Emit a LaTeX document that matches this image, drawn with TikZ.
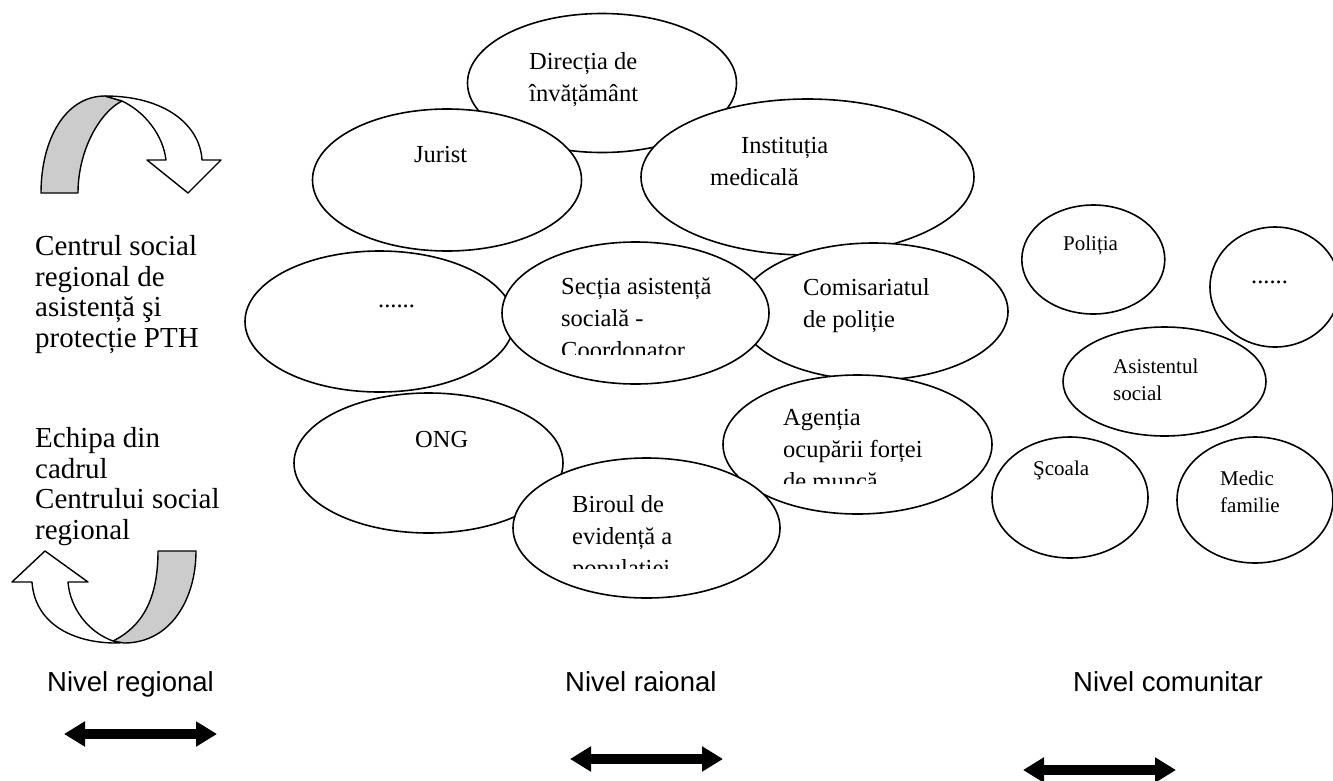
\documentclass[tikz,border=0pt]{standalone}
\usepackage{fontspec}
\setmainfont{Liberation Serif}
\newfontfamily\arialfont{Liberation Sans}
\usetikzlibrary{shapes.geometric,arrows.meta}

\begin{document}
\begin{tikzpicture}[x=1pt,y=-1pt]
          \tikzstyle{oval}=[ellipse, draw, line width=1.6pt, fill=white, inner sep=0pt]
          \tikzstyle{txt}=[anchor=base west, inner sep=0pt, align=left, font=\fontsize{24.5}{32}\selectfont]
          \tikzstyle{small}=[txt, font=\fontsize{21}{27}\selectfont]
          \tikzstyle{side}=[txt, font=\fontsize{29}{30.5}\selectfont]
          \tikzstyle{level}=[anchor=base west, inner sep=0pt, font=\arialfont\fontsize{27.5}{30}\selectfont]
          \tikzstyle{twoway}=[line width=10pt, {Triangle[length=21pt 0, width=24pt 0]}-{Triangle[length=21pt 0, width=24pt 0]}]
          \tikzstyle{band}=[draw, line width=1.4pt, line join=round]
          \useasboundingbox (0,0) rectangle (1333,780);

          \filldraw[band, fill=gray!40] (41,193) .. controls (41,140) and (65,96) .. (105,96)
            -- (122,101) .. controls (100,112) and (78,150) .. (78,193) -- cycle;
          \filldraw[band, fill=white] (105,96) .. controls (165,96) and (200,125) .. (202,160)
            -- (221,160) -- (188,193) -- (147,160) -- (166,160)
            .. controls (163,135) and (145,112) .. (122,101) -- cycle;
          \filldraw[band, fill=gray!40] (158,551) -- (196,551) .. controls (196,600) and (170,643) .. (124,643)
            -- (113,641) .. controls (145,625) and (158,595) .. (158,551) -- cycle;
          \filldraw[band, fill=white] (68,582) -- (88,582) -- (45,551) -- (12,582) -- (32,582)
            .. controls (35,625) and (75,644) .. (120,643) -- (113,641)
            .. controls (88,632) and (70,608) .. (68,582) -- cycle;

          \node[side] (centru) at (35,347) {Centrul social\\regional de\\asistență şi\\protecție PTH};
          \node[side] (echipa) at (35,539) {Echipa din\\cadrul\\Centrului social\\regional};

          \node[oval, minimum width=269pt, minimum height=139pt] (directia) at (602,83) {};
          \node[txt] (directiaT) at (529,101) {Direcția de\\învățământ};
          \node[oval, minimum width=269pt, minimum height=142pt] (jurist) at (447,180) {};
          \node[txt] (juristT) at (414,162) {Jurist};
          \node[oval, minimum width=333pt, minimum height=156pt] (institutia) at (807.5,177) {};
          \node[txt] (institutiaT) at (710,185) {\hspace*{31pt}Instituția\\medicală};
          \node[oval, minimum width=269pt, minimum height=137pt] (comisariat) at (873.5,311.5) {};
          \node[txt] (comisariatT) at (803,327) {Comisariatul\\de poliție};
          \node[oval, minimum width=269pt, minimum height=141pt] (altii) at (379.5,321.5) {};
          \node[txt] (altiiT) at (378,307) {......};
          \node[oval, minimum width=267pt, minimum height=142pt] (sectia) at (635.5,313) {};
          \begin{scope}
            \clip (500,230) rectangle (772,354);
            \node[txt] (sectiaT) at (561,358) {Secția asistență\\socială -\\Coordonator};
          \end{scope}
          \node[oval, minimum width=269pt, minimum height=140pt] (ong) at (428.5,463) {};
          \node[txt] (ongT) at (415,447) {ONG};
          \node[oval, minimum width=269pt, minimum height=139pt] (agentia) at (857.5,444.5) {};
          \begin{scope}
            \clip (720,370) rectangle (995,483);
            \node[txt] (agentiaT) at (783,489) {Agenția\\ocupării forței\\de muncă};
          \end{scope}
          \node[oval, minimum width=267pt, minimum height=140pt] (biroul) at (646.5,528) {};
          \begin{scope}
            \clip (510,455) rectangle (785,568);
            \node[txt] (biroulT) at (572,576) {Biroul de\\evidență a\\populației};
          \end{scope}

          \node[oval, minimum width=143pt, minimum height=109pt] (politia) at (1093.3,259.5) {};
          \node[small] (politiaT) at (1063,250) {Poliția};
          \node[oval, minimum width=130pt, minimum height=120pt] (altii2) at (1275,287) {};
          \node[txt] (altii2T) at (1251,283) {......};
          \node[oval, minimum width=203pt, minimum height=109pt] (asistent) at (1164.5,381.5) {};
          \node[small] (asistentT) at (1113,400) {Asistentul\\social};
          \node[oval, minimum width=156pt, minimum height=121pt] (scoala) at (1070,497.5) {};
          \node[small] (scoalaT) at (1033,475) {Şcoala};
          \node[oval, minimum width=156pt, minimum height=126pt] (medic) at (1255,500) {};
          \node[small] (medicT) at (1220,512) {Medic\\familie};

          \node[level] (regional) at (47,691) {Nivel regional};
          \node[level] (raional) at (565,691) {Nivel raional};
          \node[level] (comunitar) at (1073,691) {Nivel comunitar};
          \coordinate (regA) at (64,734);
          \coordinate (regB) at (217,734);
          \coordinate (raiA) at (570,759);
          \coordinate (raiB) at (723,759);
          \coordinate (comA) at (1023,770);
          \coordinate (comB) at (1176,770);
          \draw[twoway] (regA) -- (regB);
          \draw[twoway] (raiA) -- (raiB);
          \draw[twoway] (comA) -- (comB);
\end{tikzpicture}
\end{document}
